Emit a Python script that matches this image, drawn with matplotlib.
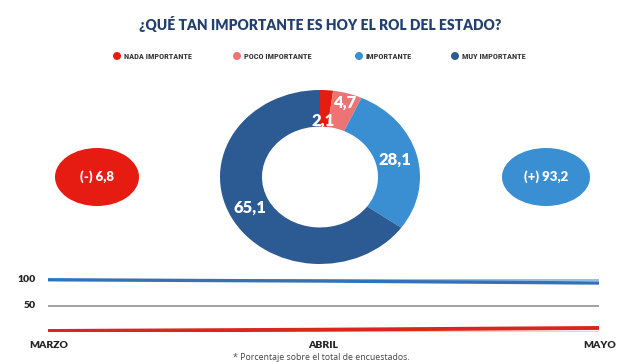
import numpy as np
import matplotlib.pyplot as plt
from matplotlib.patches import Ellipse

# data
categorias = ["NADA IMPORTANTE", "POCO IMPORTANTE", "IMPORTANTE", "MUY IMPORTANTE"]
valores = [2.1, 4.7, 28.1, 65.1]
etiquetas = ["2,1", "4,7", "28,1", "65,1"]
colores = ["#e61c12", "#ee7473", "#3a8fd3", "#2c5a93"]

meses = ["MARZO", "ABRIL", "MAYO"]
serie_nada = [1.0, 3.5, 6.8]
serie_muy = [99.5, 97.0, 93.2]
grilla_y = [50, 100]
grilla_col = ["#9a9a9a", "#8bb8e0"]

resumen_neg = "(-) 6,8"
resumen_pos = "(+) 93,2"

W, H = 640, 362
fig = plt.figure(figsize=(W / 100, H / 100), dpi=100)
fig.patch.set_facecolor("white")

def fx(px):
    return px / W

def fy(py):
    return 1 - py / H

fuente = ["Lato", "DejaVu Sans"]

fig.text(fx(320), fy(24), "¿QUÉ TAN IMPORTANTE ES HOY EL ROL DEL ESTADO?",
         ha="center", va="center", fontsize=10, fontweight="heavy",
         color="#223f6e", family=fuente)

# legend
leg_dot = [117, 237, 359, 455]
for x, c, lab in zip(leg_dot, colores, categorias):
    fig.patches.append(Ellipse((fx(x), fy(56)), 8 / W, 8 / H, transform=fig.transFigure,
                               facecolor=c, edgecolor="none"))
    fig.text(fx(x + 7), fy(56.5), lab, ha="left", va="center", fontsize=6,
             color="#333333", fontweight="bold",
             family=["Roboto Condensed", "Roboto", "DejaVu Sans"])

# donut
cx, cy, rx, ry = 320, 177, 100, 87
axd = fig.add_axes([fx(cx - rx), fy(cy + ry), 2 * rx / W, 2 * ry / H])
axd.pie(valores, colors=colores, startangle=90, counterclock=False,
        wedgeprops=dict(width=0.42, edgecolor="none"))
axd.set_aspect("auto")
axd.set_xlim(-1, 1)
axd.set_ylim(-1, 1)
axd.axis("off")

pos_etiq = [(323, 121), (345, 103), (395, 160), (250, 208)]
for (x, y), t in zip(pos_etiq, etiquetas):
    fig.text(fx(x), fy(y), t, ha="center", va="center", fontsize=12,
             fontweight="heavy", color="white", family=fuente, zorder=10)

# summary bubbles
for (x, w, c, t) in [(97, 84, colores[0], resumen_neg), (546, 88, colores[2], resumen_pos)]:
    fig.patches.append(Ellipse((fx(x), fy(177)), w / W, 58 / H, transform=fig.transFigure,
                               facecolor=c, edgecolor="none"))
    fig.text(fx(x), fy(177), t, ha="center", va="center", fontsize=9.5,
             fontweight="heavy", color="white", family=fuente)

# line chart
y0, px_unit = 331.5, 0.52
axl = fig.add_axes([fx(48), fy(y0), fx(599) - fx(48), (105 * px_unit) / H])
xs = np.arange(len(meses))
for g, gc in zip(grilla_y, grilla_col):
    axl.axhline(g, color=gc, lw=1.3, zorder=1)
axl.axhline(0, color="#5a2a2a", lw=1, zorder=1)
axl.plot(xs, serie_muy, color="#3273b8", lw=2.4, zorder=3, solid_capstyle="butt")
axl.plot(xs, serie_nada, color="#d9271c", lw=2.8, zorder=3, solid_capstyle="butt")
axl.set_xlim(0, 2)
axl.set_ylim(0, 105)
for s in axl.spines.values():
    s.set_visible(False)
axl.set_xticks([])
axl.set_yticks([])
axl.patch.set_alpha(0)

for yv, lab in zip(grilla_y, ["50", "100"]):
    fig.text(fx(36), fy(y0 - yv * px_unit), lab, ha="right", va="center",
             fontsize=7.5, fontweight="heavy", color="#222222", family=fuente)
for x, m in zip([49, 323, 600], meses):
    fig.text(fx(x), fy(345), m, ha="center", va="center", fontsize=7.5,
             fontweight="heavy", color="#222222", family=fuente)

fig.text(fx(321), fy(358), "* Porcentaje sobre el total de encuestados.",
         ha="center", va="center", fontsize=6.3, color="#444444",
         family=["Open Sans", "DejaVu Sans"])

fig.savefig("out.png", dpi=100)
